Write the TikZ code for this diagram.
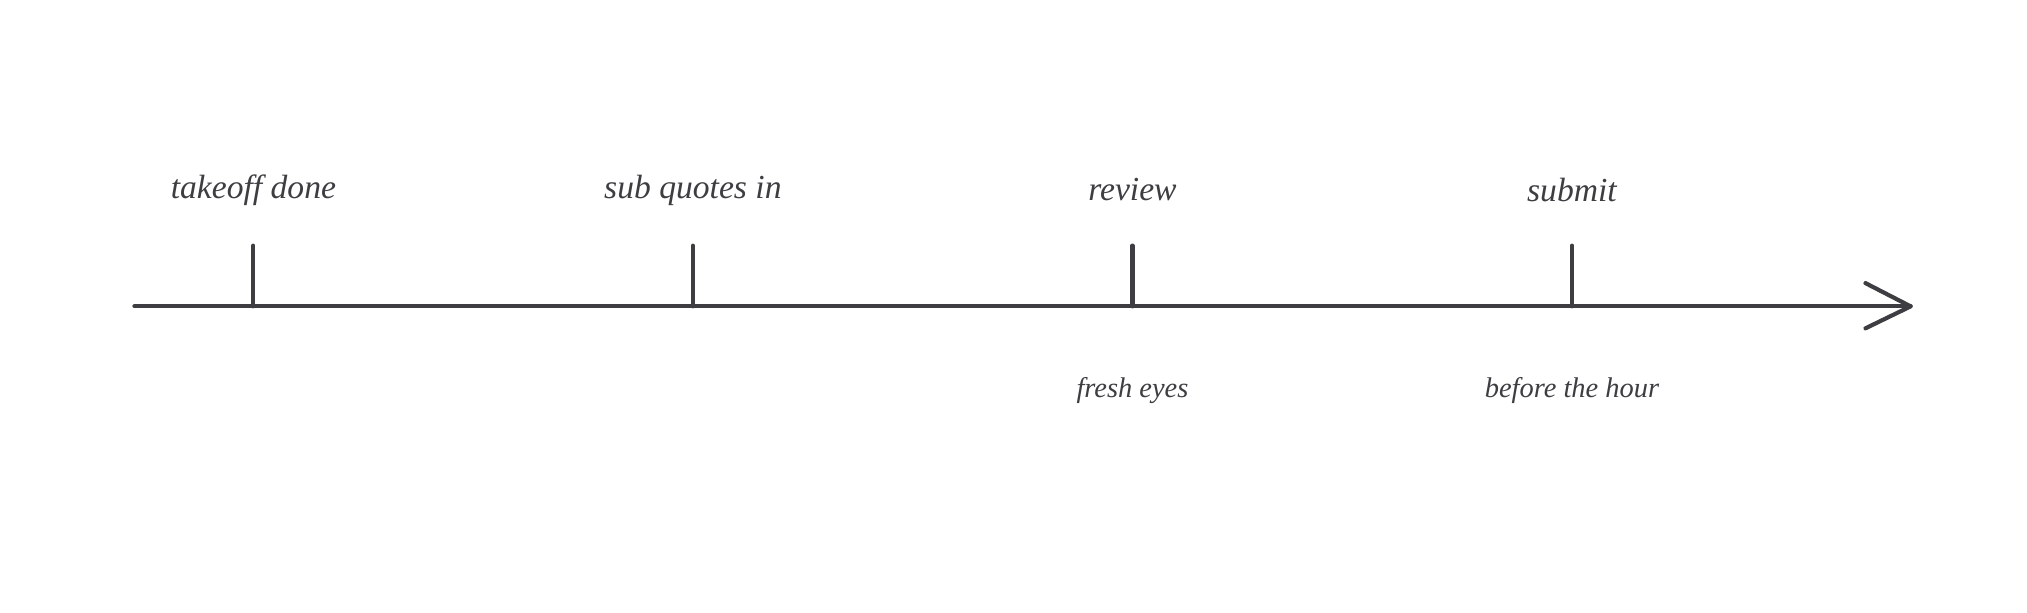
\documentclass[tikz,border=0pt]{standalone}
\usepackage{fontspec}
\setmainfont{Liberation Serif}
\begin{document}
\begin{tikzpicture}[x=0.5pt,y=-0.5pt,
  ln/.style={draw=ink,line width=1.6pt,line cap=round,line join=round},
  top/.style={text=ink,font=\itshape\fontsize{13}{15}\selectfont},
  bot/.style={text=ink,font=\itshape\fontsize{11}{13}\selectfont}]
\definecolor{ink}{HTML}{3D3D42}
\useasboundingbox (0,0) rectangle (1568,474);
\coordinate (s) at (104,237);
\coordinate (e) at (1478,237);
\draw[ln] (s) -- (e);
\draw[ln] (1443,219) -- (e) -- (1443,254);
\foreach \n/\x in {a/196,b/536,c/876,d/1216}{
  \coordinate (t\n) at (\x,190);
  \coordinate (u\n) at (\x,237);
  \draw[ln] (t\n) -- (u\n);
}
\node[top] (la) at (196,147) {takeoff done};
\node[top] (lb) at (536,147) {sub quotes in};
\node[top] (lc) at (876,147) {review};
\node[top] (ld) at (1216,147) {submit};
\node[bot] (bc) at (876,302) {fresh eyes};
\node[bot] (bd) at (1216,302) {before the hour};
\end{tikzpicture}
\end{document}
